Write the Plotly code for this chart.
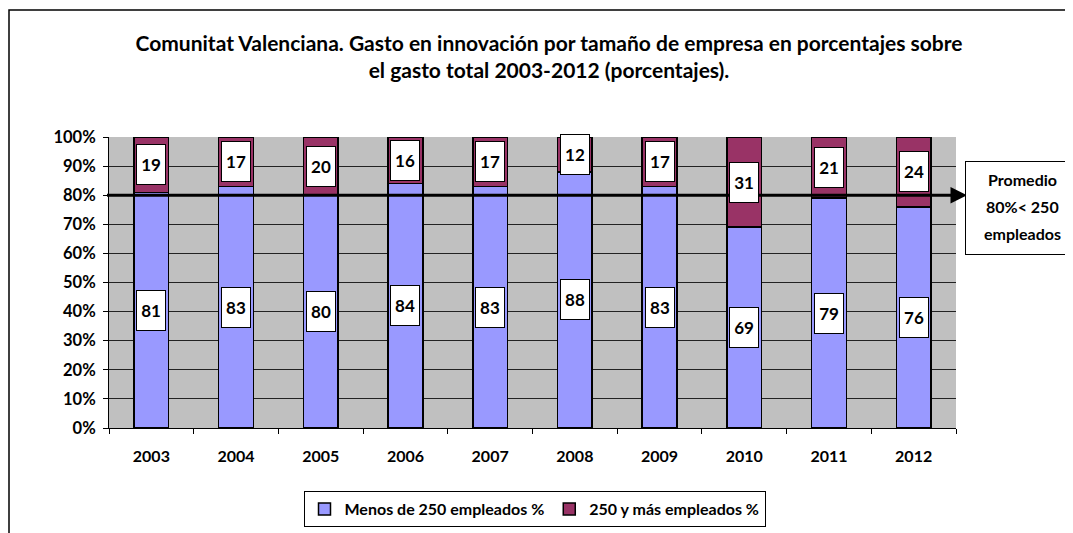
import plotly.graph_objects as go

years = ["2003", "2004", "2005", "2006", "2007", "2008", "2009", "2010", "2011", "2012"]
menos_250 = [81, 83, 80, 84, 83, 88, 83, 69, 79, 76]
mas_250 = [19, 17, 20, 16, 17, 12, 17, 31, 21, 24]
promedio = 80
promedio_lines = ["Promedio", "80%< 250", "empleados"]
y_ticks = [0, 10, 20, 30, 40, 50, 60, 70, 80, 90, 100]
y_tick_labels = [f"{v}%" for v in y_ticks]

FONT = "Lato"
W, H = 1073, 533
OFF = 8  # page offset of the figure in the browser
# target plot area in screen pixels: x 109-956, y 137-428
L, T = 109 - OFF, 137 - OFF
R = W - (956 - OFF)
B = H - (428 - OFF)
pw, ph = W - L - R, H - T - B

def px_x(px):
    return (px - OFF - L) / pw

def px_y(py):
    return (H - B - (py - OFF)) / ph

xpos = list(range(len(years)))

fig = go.Figure()
fig.add_trace(go.Bar(x=xpos, y=menos_250, name="Menos de 250 empleados %", width=0.41,
                     marker=dict(color="#9999FF", line=dict(color="black", width=1.5))))
fig.add_trace(go.Bar(x=xpos, y=mas_250, name="250 y más empleados %", width=0.41,
                     marker=dict(color="#993366", line=dict(color="black", width=1.5))))

annotations = []
for xi, a, b in zip(xpos, menos_250, mas_250):
    tot = a + b
    for val, mid in ((a, a / 2 * 100 / tot), (b, (a + b / 2) * 100 / tot)):
        annotations.append(dict(x=xi, y=mid, xref="x", yref="y", text=str(val),
                                showarrow=False, bgcolor="white", bordercolor="black",
                                borderwidth=1, width=26, height=37,
                                xanchor="center", yanchor="middle",
                                font=dict(family=FONT, size=17, color="black", weight="bold")))

# arrow for average line
annotations.append(dict(x=px_x(967), y=promedio, xref="paper", yref="y",
                        ax=-14, ay=0, text="", showarrow=True, arrowhead=2,
                        arrowsize=1.1, arrowwidth=3, arrowcolor="black"))
# callout box
annotations.append(dict(x=px_x(1021), y=px_y(208), xref="paper", yref="paper",
                        xanchor="center", yanchor="middle", text=" ", showarrow=False,
                        bgcolor="white", bordercolor="black", borderwidth=1,
                        width=108, height=90))
for line, py in zip(promedio_lines, [179, 206, 233]):
    annotations.append(dict(x=px_x(1022), y=px_y(py), xref="paper", yref="paper",
                            xanchor="center", yanchor="middle", text=line, showarrow=False,
                            font=dict(family=FONT, size=16, color="black", weight="bold")))

shapes = [
    dict(type="line", xref="paper", yref="y", x0=px_x(107), x1=px_x(958),
         y0=promedio, y1=promedio, line=dict(color="black", width=3), layer="above"),
    dict(type="rect", xref="paper", yref="paper", x0=px_x(9), x1=px_x(1100),
         y0=px_y(560), y1=px_y(10), line=dict(color="black", width=1.5),
         layer="below"),
]

boundaries = [i - 0.5 for i in range(len(years) + 1)]

fig.update_layout(
    width=W, height=H,
    barmode="stack", barnorm="percent",
    plot_bgcolor="#C0C0C0", paper_bgcolor="white",
    margin=dict(l=L, r=R, t=T, b=B, autoexpand=False),
    title=dict(text="Comunitat Valenciana. Gasto en innovación por tamaño de empresa en porcentajes sobre<br>el gasto total 2003-2012 (porcentajes).",
               x=(549 - OFF) / W, xanchor="center", xref="container",
               y=1 - (51 - OFF) / H, yanchor="middle", yref="container",
               font=dict(family=FONT, size=21, color="black", weight="bold")),
    font=dict(family=FONT, color="black"),
    xaxis=dict(range=[-0.5, len(years) - 0.5], tickvals=xpos, ticktext=years,
               showline=True, linecolor="black", linewidth=1, ticks="", ticklen=0,
               minor=dict(tickvals=boundaries, ticks="outside", ticklen=5, tickcolor="black", showgrid=False),
               tickfont=dict(family=FONT, size=16, color="black", weight="bold"),
               showgrid=False, zeroline=False, ticklabelstandoff=14),
    yaxis=dict(range=[0, 100], tickvals=y_ticks, ticktext=y_tick_labels,
               showline=True, linecolor="black", linewidth=1, ticks="outside", ticklen=5,
               tickcolor="black", showgrid=True, gridcolor="#222222", gridwidth=1,
               ticklabelstandoff=4,
               tickfont=dict(family=FONT, size=16.5, color="black", weight="bold"), zeroline=False),
    legend=dict(orientation="h", x=(534.5 - OFF) / W, xanchor="center", xref="container",
                y=1 - (491 - OFF) / H, yanchor="top", yref="container",
                bordercolor="black", borderwidth=1, bgcolor="white",
                font=dict(family=FONT, size=16, color="black", weight="bold"),
                itemwidth=30, traceorder="normal"),
    annotations=annotations, shapes=shapes,
)

fig.write_html("out.html")
